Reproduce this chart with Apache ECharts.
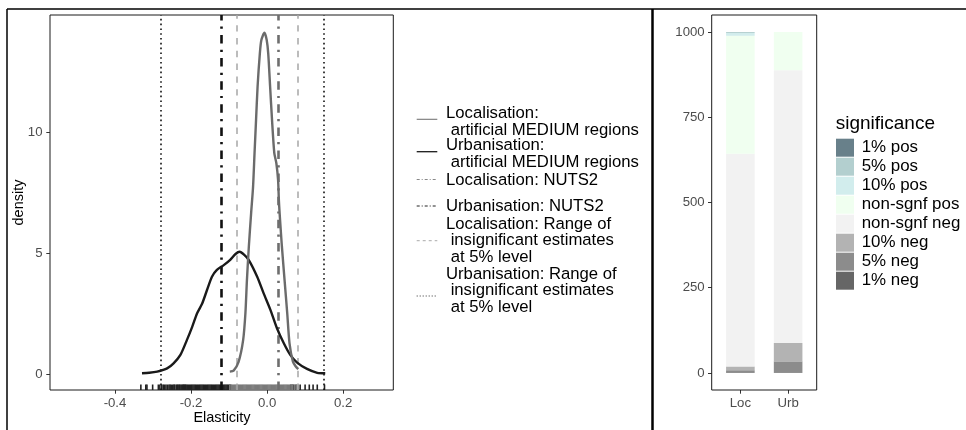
<!DOCTYPE html>
<html><head><meta charset="utf-8">
<script src="https://cdn.jsdelivr.net/npm/echarts@6/dist/echarts.min.js"></script>
<style>html,body{margin:0;padding:0;background:#fff}#c{width:966px;height:430px}</style>
</head><body><div id="c"></div>
<script>
const FONT = '"Liberation Sans", Arial, sans-serif';

// ---------- Left panel: density of elasticities ----------
const locDensityX = [-0.098,-0.088,-0.075,-0.063,-0.057,-0.053,-0.048,-0.042,-0.037,-0.033,-0.029,-0.025,-0.019,-0.015,-0.007,-0.001,0.003,0.008,0.013,0.019,0.0245,0.029,0.031,0.033,0.039,0.046,0.053,0.059,0.068,0.075,0.082];
const locDensityY = [0.10,0.14,0.50,1.40,2.51,3.88,5.26,6.64,7.70,9.12,10.50,11.87,13.25,13.80,14.10,13.80,13.25,11.87,10.50,9.13,8.70,8.00,7.19,6.64,5.26,3.88,2.51,1.27,0.51,0.32,0.20];
const urbDensityX = [-0.329,-0.310,-0.289,-0.263,-0.246,-0.228,-0.211,-0.197,-0.184,-0.171,-0.158,-0.145,-0.132,-0.114,-0.097,-0.083,-0.072,-0.060,-0.048,-0.026,-0.009,0.009,0.026,0.044,0.061,0.079,0.105,0.132,0.153];
const urbDensityY = [0.03,0.05,0.10,0.23,0.44,0.79,1.40,1.95,2.51,2.90,3.47,4.02,4.30,4.50,4.72,4.96,5.05,4.92,4.71,4.02,3.33,2.64,1.89,1.27,0.79,0.47,0.21,0.05,0.03];
const urbRug = [-0.332,-0.319,-0.316,-0.301,-0.286,-0.282,-0.277,-0.273,-0.270,-0.266,-0.262,-0.258,-0.255,-0.252,-0.248,-0.245,-0.243,-0.239,-0.236,-0.234,-0.231,-0.229,-0.226,-0.223,-0.221,-0.219,-0.217,-0.215,-0.213,-0.210,-0.207,-0.204,-0.201,-0.198,-0.195,-0.192,-0.189,-0.186,-0.183,-0.180,-0.177,-0.174,-0.171,-0.168,-0.165,-0.162,-0.159,-0.156,-0.153,-0.150,-0.147,-0.144,-0.141,-0.138,-0.135,-0.132,-0.129,-0.126,-0.123,-0.120,-0.117,-0.114,-0.111,-0.108,-0.105,-0.102,-0.099,-0.096,0.062,0.066,0.070,0.076,0.087,0.100,0.111,0.121,0.132,0.151];
const locRug = [-0.098,-0.094,-0.091,-0.088,-0.085,-0.082,-0.079,-0.076,-0.073,-0.070,-0.067,-0.064,-0.061,-0.058,-0.055,-0.052,-0.049,-0.046,-0.043,-0.040,-0.037,-0.034,-0.031,-0.028,-0.025,-0.022,-0.019,-0.016,-0.013,-0.010,-0.007,-0.004,-0.001,0.002,0.005,0.008,0.011,0.014,0.017,0.020,0.023,0.026,0.029,0.032,0.035,0.038,0.041,0.044,0.047,0.050,0.053,0.056,0.059,0.063,0.067,0.072,0.077,0.082];
const urbRange = [-0.277, 0.153];
const locRange = [-0.083, 0.084];
const urbNuts2 = [-0.118];
const locNuts2 = [0.031];
const elasticityTicks = [-0.4, -0.2, 0.0, 0.2];
const densityTicks = [0, 5, 10];
const xMin = -0.571, xMax = 0.332, yMin = -0.661, yMax = 14.835;

// ---------- Right panel: significance counts ----------
const barCategories = ['Loc', 'Urb'];
const significanceLevels = ['1% pos','5% pos','10% pos','non-sgnf pos','non-sgnf neg','10% neg','5% neg','1% neg'];
const significanceColors = ['#68808a','#b3cfcf','#d2eded','#f0fff0','#f2f2f2','#b3b3b3','#8c8c8c','#666666'];
const countsLoc = [0, 3, 8, 346, 624, 11, 8, 0];
const countsUrb = [0, 0, 0, 112, 800, 54, 34, 0];
const countTicks = [0, 250, 500, 750, 1000];

const chart = echarts.init(document.getElementById('c'), null, {renderer: 'canvas'});

function rugSeries(vals, color) {
  return {
    type: 'custom', xAxisIndex: 0, yAxisIndex: 0, z: 3,
    data: vals.map(v => [v, yMin]),
    encode: {x: 0, y: 1},
    renderItem: (params, api) => {
      const p = api.coord([api.value(0), api.value(1)]);
      return {type: 'line', shape: {x1: p[0], y1: p[1], x2: p[0], y2: p[1] - 5.5},
              style: {stroke: color, lineWidth: 1.6}};
    }
  };
}
function vline(vals, color, width, dash) {
  return {
    type: 'line', xAxisIndex: 0, yAxisIndex: 0, data: [], z: 4,
    markLine: {silent: true, symbol: 'none', animation: false, label: {show: false},
      lineStyle: {color: color, width: width, type: dash, cap: 'butt'},
      data: vals.map(v => ({xAxis: v}))}
  };
}

const axisLabelStyle = {color: '#4d4d4d', fontSize: 13.2, fontFamily: FONT};
const tickStyle = {show: true, length: 3.7, lineStyle: {color: '#333', width: 1}};
const noLine = {show: false, onZero: false};

const series = [
  vline(urbRange, '#111', 1.6, [1.6, 3.2]),
  vline(locRange, '#a6a6a6', 1.5, [6.4, 6.4]),
  vline(urbNuts2, '#111', 2.6, [8.5, 6.2, 2.2, 6.2]),
  vline(locNuts2, '#6e6e6e', 2.6, [8.5, 6.2, 2.2, 6.2]),
  {type: 'line', xAxisIndex: 0, yAxisIndex: 0, showSymbol: false, smooth: 0.25, z: 5,
   lineStyle: {color: '#1a1a1a', width: 2.4}, data: urbDensityX.map((x, i) => [x, urbDensityY[i]])},
  {type: 'line', xAxisIndex: 0, yAxisIndex: 0, showSymbol: false, smooth: 0.25, z: 5,
   lineStyle: {color: '#6b6b6b', width: 2.4}, data: locDensityX.map((x, i) => [x, locDensityY[i]])},
  rugSeries(urbRug, '#222'),
  rugSeries(locRug, '#7a7a7a')
];
const countsBy = significanceLevels.map((s, i) => [countsLoc[i], countsUrb[i]]);
for (let i = significanceLevels.length - 1; i >= 0; i--) {
  series.push({
    type: 'bar', name: significanceLevels[i], xAxisIndex: 1, yAxisIndex: 1, stack: 'sig',
    barWidth: 28.6, itemStyle: {color: significanceColors[i]},
    data: countsBy[i]
  });
}

const graphics = [];
graphics.push({type: 'line', shape: {x1: 7, y1: 9, x2: 966, y2: 9}, style: {stroke: '#000', lineWidth: 1.5}});
graphics.push({type: 'line', shape: {x1: 7, y1: 9, x2: 7, y2: 430}, style: {stroke: '#000', lineWidth: 1.5}});
graphics.push({type: 'line', shape: {x1: 652.5, y1: 9, x2: 652.5, y2: 430}, style: {stroke: '#000', lineWidth: 2.5}});
graphics.push({type: 'rect', z: 100, shape: {x: 711.7, y: 15, width: 105, height: 375}, style: {fill: null, stroke: '#1a1a1a', lineWidth: 1}});
graphics.push({type: 'text', x: 19, y: 202.5, rotation: Math.PI / 2,
  style: {text: 'density', font: '14.5px ' + FONT, fill: '#000', align: 'center', verticalAlign: 'middle'}});
graphics.push({type: 'text', x: 222, y: 418,
  style: {text: 'Elasticity', font: '14.5px ' + FONT, fill: '#000', align: 'center', verticalAlign: 'middle'}});

const leftLegend = [
  {text: 'Localisation:\n artificial MEDIUM regions', y: 113.3, ky: 119.3, color: '#777', w: 1.1, dash: 'solid'},
  {text: 'Urbanisation:\n artificial MEDIUM regions', y: 145.7, ky: 151.7, color: '#1a1a1a', w: 1.3, dash: 'solid'},
  {text: 'Localisation: NUTS2', y: 180, ky: 179.5, color: '#888', w: 1, dash: [3, 2, 1, 2]},
  {text: 'Urbanisation: NUTS2', y: 206, ky: 206, color: '#222', w: 1, dash: [3, 2, 1, 2]},
  {text: 'Localisation: Range of\n insignificant estimates\n at 5% level', y: 224, ky: 240.7, color: '#aaa', w: 1, dash: [3, 3]},
  {text: 'Urbanisation: Range of\n insignificant estimates\n at 5% level', y: 274, ky: 296, color: '#333', w: 1, dash: [1, 2]}
];
const LH = 16.6;
leftLegend.forEach(e => {
  graphics.push({type: 'line', shape: {x1: 416.7, y1: e.ky, x2: 437.3, y2: e.ky},
    style: {stroke: e.color, lineWidth: e.w, lineDash: e.dash === 'solid' ? null : e.dash}});
  graphics.push({type: 'text', x: 446, y: e.y - LH / 2,
    style: {text: e.text, font: '16.7px ' + FONT, fill: '#000', lineHeight: LH, verticalAlign: 'top', align: 'left'}});
});

graphics.push({type: 'text', x: 835.7, y: 124,
  style: {text: 'significance', font: '19px ' + FONT, fill: '#000', verticalAlign: 'middle', align: 'left'}});
significanceLevels.forEach((s, i) => {
  const cy = 147.7 + i * 19;
  graphics.push({type: 'rect', shape: {x: 836, y: cy - 9, width: 18, height: 18}, style: {fill: significanceColors[i]}});
  graphics.push({type: 'text', x: 861.7, y: cy,
    style: {text: s, font: '16.9px ' + FONT, fill: '#000', verticalAlign: 'middle', align: 'left'}});
});

chart.setOption({
  animation: false,
  backgroundColor: '#fff',
  grid: [
    {left: 50, top: 15, width: 343.3, height: 375, show: true, borderColor: '#1a1a1a', borderWidth: 1, backgroundColor: 'transparent'},
    {left: 716.5, top: 15, width: 95.5, height: 375, show: false}
  ],
  xAxis: [
    {type: 'value', gridIndex: 0, min: xMin, max: xMax,
     axisLine: noLine, splitLine: {show: false},
     axisTick: Object.assign({customValues: elasticityTicks}, tickStyle),
     axisLabel: Object.assign({customValues: elasticityTicks, margin: 7, formatter: v => v.toFixed(1)}, axisLabelStyle)},
    {type: 'category', gridIndex: 1, data: barCategories, boundaryGap: true,
     axisLine: noLine, splitLine: {show: false},
     axisTick: Object.assign({alignWithLabel: true, interval: 0}, tickStyle),
     axisLabel: Object.assign({margin: 7, interval: 0}, axisLabelStyle)}
  ],
  yAxis: [
    {type: 'value', gridIndex: 0, min: yMin, max: yMax,
     axisLine: noLine, splitLine: {show: false},
     axisTick: Object.assign({customValues: densityTicks}, tickStyle),
     axisLabel: Object.assign({customValues: densityTicks, margin: 7.5, formatter: v => String(v)}, axisLabelStyle)},
    {type: 'value', gridIndex: 1, min: -50, max: 1050, offset: 4.8,
     axisLine: noLine, splitLine: {show: false},
     axisTick: Object.assign({customValues: countTicks}, tickStyle),
     axisLabel: Object.assign({customValues: countTicks, margin: 7, formatter: v => String(v)}, axisLabelStyle)}
  ],
  series: series,
  graphic: graphics
});
</script>
</body></html>
